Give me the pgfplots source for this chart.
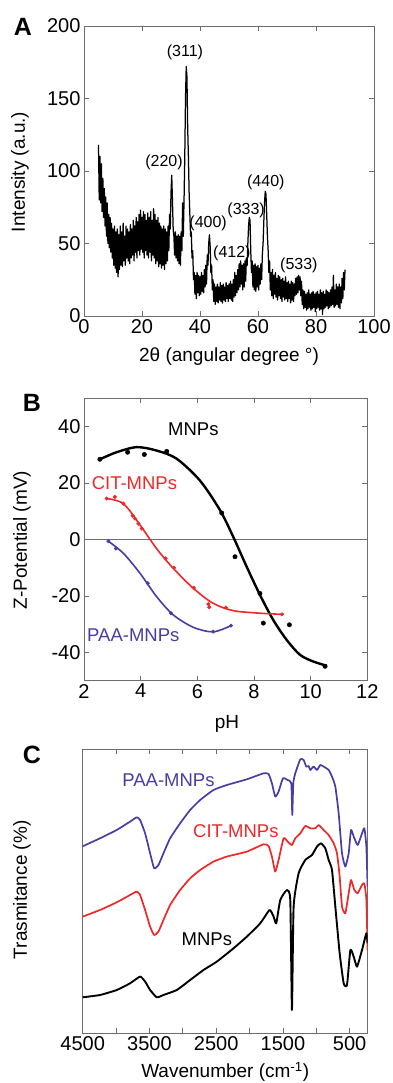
\documentclass[border=0pt]{standalone}
\usepackage{fontspec}
\setmainfont{Liberation Sans}
\usepackage{pgfplots}
\pgfplotsset{compat=1.18}
\definecolor{paa}{RGB}{72,60,165}
\definecolor{cit}{RGB}{238,40,40}
\definecolor{axgray}{RGB}{110,110,110}
\pgfplotsset{base/.style={scale only axis, anchor=south west, tick align=inside,
  axis line style={axgray, line width=0.8pt},
  major tick style={axgray, line width=0.8pt}, major tick length=5pt,
  tick label style={font=\fontsize{20}{24}\selectfont},
  label style={font=\fontsize{19}{23}\selectfont},
  /pgf/number format/assume math mode=true}}
\begin{document}
\begin{tikzpicture}
\useasboundingbox (0pt,0pt) rectangle (392pt,1083pt);
\node[font=\fontsize{25}{28}\selectfont\bfseries] at (23pt,1056pt) {A};
\node[font=\fontsize{25}{28}\selectfont\bfseries] at (32pt,680pt) {B};
\node[font=\fontsize{25}{28}\selectfont\bfseries] at (32pt,328pt) {C};
% ---------------- Panel A
\begin{axis}[base, at={(84pt,767pt)}, width=290pt, height=290pt,
  xmin=0, xmax=100, ymin=0, ymax=200,
  xtick={0,20,...,100}, ytick={0,50,...,200},
  xlabel={2θ (angular degree °)}, ylabel={Intensity (a.u.)},
  xlabel style={at={(axis description cs:0.5,-0.141)}, anchor=center},
  ylabel style={at={(axis description cs:-0.221,0.497)}, anchor=center}]
\addplot[black, line width=1.25pt, line join=round] coordinates {
(5.00,118)(5.25,80)(5.50,110)(5.75,78)
(6.00,105)(6.25,72)(6.50,95)(6.75,68)
(7.00,88)(7.25,62)(7.50,82)(7.75,55)
(8.00,78)(8.25,50)(8.50,70)(8.75,47)
(9.00,68)(9.25,44)(9.50,64)(9.75,40)
(10.00,60)(10.25,35)(10.50,62)(10.75,33)
(11.00,58)(11.25,30)(11.50,60)(11.75,27)
(12.00,56)(12.25,32)(12.50,62)(12.75,35)
(13.00,58)(13.25,34)(13.50,64)(13.75,38)
(14.00,55)(14.25,35)(14.50,62)(14.75,40)
(15.00,60)(15.25,38)(15.50,58)(15.75,36)
(16.00,63)(16.25,40)(16.50,60)(16.75,42)
(17.00,66)(17.25,38)(17.50,62)(17.75,44)
(18.00,68)(18.25,40)(18.50,65)(18.75,45)
(19.00,70)(19.25,42)(19.50,73)(19.75,46)
(20.00,68)(20.25,44)(20.50,72)(20.75,40)
(21.00,70)(21.25,45)(21.50,66)(21.75,42)
(22.00,71)(22.25,40)(22.50,68)(22.75,44)
(23.00,72)(23.25,38)(23.50,66)(23.75,42)
(24.00,74)(24.25,40)(24.50,70)(24.75,36)
(25.00,66)(25.25,38)(25.50,68)(25.75,34)
(26.00,64)(26.25,36)(26.50,62)(26.75,33)
(27.00,60)(27.25,35)(27.50,62)(27.75,32)
(28.00,60)(28.25,36)(28.50,58)(28.75,38)
(29.00,62)(29.25,45)(29.50,70)(29.75,60)
(30.00,85)(30.25,97)(30.50,80)(30.75,60)
(31.00,55)(31.25,42)(31.50,58)(31.75,40)
(32.00,55)(32.25,38)(32.50,56)(32.75,36)
(33.00,55)(33.25,35)(33.50,58)(33.75,45)
(34.00,78)(34.25,55)(34.50,80)(34.75,110)
(35.00,150)(35.25,172)(35.50,165)(35.75,130)
(36.00,110)(36.25,85)(36.50,70)(36.75,55)
(37.00,58)(37.25,40)(37.50,45)(37.75,25)
(38.00,30)(38.25,15)(38.50,28)(38.75,12)
(39.00,30)(39.25,16)(39.50,28)(39.75,14)
(40.00,27)(40.25,15)(40.50,30)(40.75,17)
(41.00,28)(41.25,16)(41.50,32)(41.75,20)
(42.00,35)(42.25,22)(42.50,42)(42.75,35)
(43.00,50)(43.25,56)(43.50,48)(43.75,30)
(44.00,35)(44.25,18)(44.50,25)(44.75,10)
(45.00,22)(45.25,8)(45.50,20)(45.75,10)
(46.00,22)(46.25,9)(46.50,20)(46.75,11)
(47.00,23)(47.25,10)(47.50,21)(47.75,9)
(48.00,22)(48.25,11)(48.50,20)(48.75,10)
(49.00,23)(49.25,12)(49.50,21)(49.75,10)
(50.00,22)(50.25,12)(50.50,24)(50.75,11)
(51.00,22)(51.25,10)(51.50,25)(51.75,13)
(52.00,30)(52.25,14)(52.50,28)(52.75,16)
(53.00,32)(53.25,18)(53.50,36)(53.75,20)
(54.00,38)(54.25,22)(54.50,35)(54.75,18)
(55.00,36)(55.25,20)(55.50,38)(55.75,24)
(56.00,40)(56.25,35)(56.50,50)(56.75,62)
(57.00,68)(57.25,66)(57.50,45)(57.75,30)
(58.00,38)(58.25,20)(58.50,35)(58.75,18)
(59.00,36)(59.25,17)(59.50,34)(59.75,20)
(60.00,35)(60.25,18)(60.50,33)(60.75,22)
(61.00,36)(61.25,25)(61.50,42)(61.75,50)
(62.00,65)(62.25,78)(62.50,86)(62.75,84)
(63.00,70)(63.25,55)(63.50,45)(63.75,30)
(64.00,38)(64.25,18)(64.50,30)(64.75,14)
(65.00,32)(65.25,12)(65.50,28)(65.75,15)
(66.00,30)(66.25,13)(66.50,26)(66.75,11)
(67.00,28)(67.25,14)(67.50,27)(67.75,12)
(68.00,25)(68.25,10)(68.50,26)(68.75,13)
(69.00,24)(69.25,11)(69.50,27)(69.75,12)
(70.00,23)(70.25,10)(70.50,24)(70.75,12)
(71.00,22)(71.25,9)(71.50,24)(71.75,11)
(72.00,23)(72.25,10)(72.50,22)(72.75,14)
(73.00,26)(73.25,15)(73.50,27)(73.75,16)
(74.00,28)(74.25,18)(74.50,27)(74.75,14)
(75.00,24)(75.25,8)(75.50,18)(75.75,5)
(76.00,17)(76.25,6)(76.50,15)(76.75,4)
(77.00,16)(77.25,5)(77.50,18)(77.75,6)
(78.00,15)(78.25,4)(78.50,16)(78.75,5)
(79.00,17)(79.25,6)(79.50,15)(79.75,3)
(80.00,16)(80.25,5)(80.50,17)(80.75,6)
(81.00,15)(81.25,4)(81.50,18)(81.75,5)
(82.00,16)(82.25,1)(82.50,17)(82.75,5)
(83.00,15)(83.25,6)(83.50,18)(83.75,7)
(84.00,17)(84.25,5)(84.50,16)(84.75,6)
(85.00,18)(85.25,7)(85.50,20)(85.75,8)
(86.00,28)(86.25,6)(86.50,18)(86.75,7)
(87.00,22)(87.25,8)(87.50,20)(87.75,6)
(88.00,22)(88.25,5)(88.50,20)(88.75,9)
(89.00,26)(89.25,12)(89.50,30)(89.75,18)
(90.00,32)
};
\begin{scope}[every node/.style={font=\fontsize{16}{19}\selectfont}]
\node at (axis cs:34.8,182) {(311)};
\node at (axis cs:27.6,106) {(220)};
\node at (axis cs:42.8,64) {(400)};
\node at (axis cs:51,43.5) {(412)};
\node at (axis cs:55.9,73) {(333)};
\node at (axis cs:62.7,92) {(440)};
\node at (axis cs:74.1,35) {(533)};
\end{scope}
\end{axis}
% ---------------- Panel B
\begin{axis}[base, at={(84pt,402.3pt)}, width=283.3pt, height=282.4pt,
  xmin=2, xmax=12, ymin=-50, ymax=50,
  xtick={2,4,...,12}, ytick={-40,-20,0,20,40},
  xlabel={pH}, ylabel={Z-Potential (mV)},
  xlabel style={at={(axis description cs:0.505,-0.153)}, anchor=center},
  ylabel style={at={(axis description cs:-0.219,0.498)}, anchor=center}]
\addplot[axgray, line width=0.5pt] coordinates {(2,0) (12,0)};
% MNPs
\addplot[black, line width=2.4pt, smooth] coordinates {
(2.56,28.4)(3.15,30.9)(3.86,32.7)(4.56,31.5)(5.27,28.6)(6.09,20.9)(6.8,10.4)
(7.27,0.9)(7.74,-9.6)(8.21,-19.6)(8.68,-28.5)(9.15,-35.5)(9.62,-40.8)(10.09,-43.2)(10.57,-44.7)};
\addplot[black, only marks, mark=*, mark size=2.2pt] coordinates {
(2.56,28.4)(3.54,30.9)(4.13,30.1)(4.92,31.2)(6.86,9.4)(7.33,-6.1)(8.21,-19.1)
(8.33,-29.6)(9.25,-30.2)(10.51,-44.9)};
% CIT
\addplot[cit, line width=1.6pt, smooth] coordinates {
(2.80,14.5)(3.39,12.7)(3.98,5.1)(4.56,-3.2)(5.15,-10.2)(5.86,-17.3)(6.56,-22.6)
(7.27,-25.2)(8.21,-26.1)(8.99,-26.5)};
\addplot[cit, only marks, mark=*, mark size=1.8pt] coordinates {
(2.80,14.5)(3.09,15.1)(3.39,12.7)(3.72,8.4)(3.80,7.4)(3.92,5.6)(4.04,3.9)
(4.88,-6.7)(5.18,-10)(5.88,-17.1)(6.39,-22.9)(6.42,-24)(7.01,-24.1)(8.99,-26.5)};
% PAA
\addplot[paa, line width=1.6pt, smooth] coordinates {
(2.86,-0.6)(3.39,-4.9)(3.98,-12)(4.56,-20.2)(5.15,-26.7)(5.86,-31.1)(6.56,-32.7)(7.19,-30.5)};
\addplot[paa, only marks, mark=*, mark size=1.8pt] coordinates {
(2.86,-0.6)(3.13,-3.2)(4.25,-15.5)(5.07,-26.1)(6.56,-32.6)(7.19,-30.5)};
\node[font=\fontsize{18.5}{22}\selectfont] at (axis cs:5.86,38.9) {MNPs};
\node[font=\fontsize{18.5}{22}\selectfont, text=cit] at (axis cs:3.78,20) {CIT-MNPs};
\node[font=\fontsize{18.5}{22}\selectfont, text=paa] at (axis cs:3.74,-33.8) {PAA-MNPs};
\end{axis}
% ---------------- Panel C
\begin{axis}[base, at={(82.7pt,49.7pt)}, width=285pt, height=284pt,
  x dir=reverse, xmin=230, xmax=4500, ymin=0, ymax=284,
  xtick={500,1000,...,4500}, xticklabels={500,,1500,,2500,,3500,,4500},
  ytick=\empty,
  xlabel={Wavenumber (cm\textsuperscript{-1})}, ylabel={Trasmitance (\%)},
  xlabel style={at={(axis description cs:0.5,-0.135)}, anchor=center},
  ylabel style={at={(axis description cs:-0.213,0.505)}, anchor=center}]
\addplot[paa, line width=1.7pt, line join=round, smooth, tension=0.3] coordinates {
(4500,187)(4240,195)(3990,203.3)(3790,211.7)(3690,216)(3640,213.3)(3565,200)(3490,180)
(3430,165)(3365,168.3)(3290,180)(3190,195)(3040,210)(2890,223.3)(2740,233.3)(2540,243.3)
(2340,248.3)(2040,254)(1790,260)(1715,259.3)(1665,250)(1615,236.7)(1565,241.7)(1500,255)
(1430,253.3)(1375,250)(1360,218.3)(1345,250)(1315,260)(1240,274)(1190,273.3)(1150,266.7)
(1115,267.3)(1090,263.3)(1040,266.7)(990,263.3)(940,268.3)(890,266.7)(815,263.3)(765,256.7)
(715,246.7)(665,220)(615,180)(565,166.7)(515,180)(480,203.3)(440,196.7)(380,188.3)
(315,200)(280,205)(250,186.7)(232,146.7)};
\addplot[cit, line width=1.7pt, line join=round, smooth, tension=0.3] coordinates {
(4500,116.7)(4240,123.3)(3990,131)(3790,138.3)(3690,141.7)(3640,138.3)(3565,123.3)(3490,106.7)
(3430,98.3)(3365,101.7)(3290,113.3)(3190,128.3)(3040,143.3)(2890,155)(2740,163.3)(2540,171.7)
(2340,176.7)(2040,181.7)(1790,189)(1715,187.3)(1665,176.7)(1615,161.7)(1565,173.3)(1490,195)
(1430,191.7)(1365,188.3)(1315,195)(1240,200)(1165,207.3)(1090,205)(1015,205)(965,208.3)
(890,203.3)(815,198.3)(740,190)(690,180)(650,156.7)(615,126.7)(565,120)(515,140)
(480,153.3)(430,143.3)(380,140)(315,148.3)(280,150)(250,133.3)(232,83.3)};
\addplot[black, line width=1.9pt, line join=round, smooth, tension=0.3] coordinates {
(4500,36)(4240,38.3)(3990,43.3)(3790,50)(3640,56.7)(3565,51.7)(3490,43.3)(3390,36)
(3290,38.3)(3090,43.3)(2890,53.3)(2690,63.3)(2490,71.7)(2240,85)(2040,96.7)(1840,110)
(1700,123.3)(1640,116.7)(1600,110)(1540,133.3)(1440,143.3)(1390,133.3)(1365,23.3)(1340,126.7)
(1265,160)(1165,173.3)(1065,178.3)(990,186.7)(930,190)(865,185)(815,173.3)(765,163.3)
(715,126.7)(650,80)(590,50)(540,48.3)(490,83.3)(440,76.7)(390,66.7)(315,83.3)(250,100)(232,90)};
\node[font=\fontsize{18.5}{22}\selectfont, text=paa] at (axis cs:3215,252.7) {PAA-MNPs};
\node[font=\fontsize{18.5}{22}\selectfont, text=cit] at (axis cs:2205,201.7) {CIT-MNPs};
\node[font=\fontsize{18.5}{22}\selectfont] at (axis cs:2640,94) {MNPs};
\end{axis}
\end{tikzpicture}
\end{document}
